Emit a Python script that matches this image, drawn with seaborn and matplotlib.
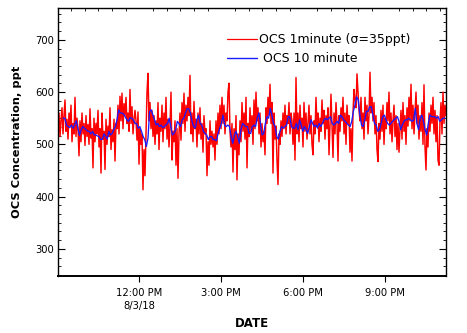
import numpy as np
import pandas as pd
import matplotlib
matplotlib.use("Agg")
import matplotlib.pyplot as plt
import matplotlib.dates as mdates
import matplotlib.ticker as mticker
import seaborn as sns
from matplotlib.lines import Line2D

# ---------------- data ----------------
red_start = "2018-08-03 09:01:30"
red_end = "2018-08-03 23:13:00"
blue_start = "2018-08-03 09:13:00"
blue_end = "2018-08-03 23:10:00"

# OCS 1 minute (ppt)
ocs_1min = [
    530, 560, 515, 545, 570, 520, 555, 585, 525, 548,
    510, 560, 535, 575, 505, 540, 520, 590, 515, 550,
    530, 478, 545, 505, 560, 520, 540, 498, 555, 515,
    538, 500, 568, 512, 530, 455, 550, 505, 540, 520,
    565, 495, 530, 445, 560, 510, 525, 452, 548, 500,
    535, 515, 570, 490, 528, 505, 548, 468, 540, 530,
    575, 520, 592, 545, 598, 530, 578, 555, 590, 540,
    560, 525, 605, 540, 572, 520, 548, 565,
    545, 508, 562, 462, 530, 500, 520, 413, 490, 440,
    520, 600, 636, 545, 580, 530, 565, 515, 555, 500,
    545, 520, 580, 490, 550, 525, 575, 505, 560, 530,
    590, 510, 548, 495, 535, 600, 470, 525, 505, 545,
    460, 530, 435, 520, 560, 508, 580, 540, 598, 525,
    575, 545, 590, 555, 632, 520, 560, 505, 582, 530,
    548, 495, 560, 520, 570, 510, 540, 485, 555, 520,
    530, 440, 505, 460, 545, 500, 525, 495,
    520, 470, 545, 500, 560, 520, 575, 530, 590, 540,
    575, 520, 560, 545, 600, 617, 525, 495, 540, 447,
    530, 490, 555, 432, 520, 480, 545, 505, 580, 525,
    560, 510, 590, 455, 540, 515, 570, 525, 555, 500,
    585, 530, 600, 545, 570, 520, 560, 495, 540, 505,
    525, 480, 570, 540, 590, 555, 615, 540, 580, 445,
    560, 510, 535, 470, 423, 520, 500, 545, 515, 560,
    530, 575, 520, 555, 540, 580, 520, 560,
    545, 500, 560, 470, 628, 520, 560, 505, 575, 530,
    550, 495, 580, 525, 560, 510, 540, 575, 520, 555,
    500, 480, 545, 520, 590, 535, 560, 505, 550, 525,
    585, 540, 565, 510, 555, 530, 570, 480, 540, 596,
    535, 475, 560, 520, 580, 540, 468, 555, 525, 570,
    545, 590, 520, 560, 500, 575, 540, 555, 485, 530,
    468, 560, 605, 585, 570, 635, 600, 565, 545, 590,
    530, 560, 510, 590, 545, 575, 520, 555,
    638, 560, 590, 545, 580, 520, 555, 490, 467, 540,
    510, 565, 525, 575, 500, 550, 530, 580, 545, 600,
    520, 560, 505, 545, 575, 515, 555, 490, 540, 485,
    530, 565, 510, 580, 525, 555, 500, 570, 535, 590,
    545, 615, 530, 575, 520, 560, 600, 540, 575, 510,
    555, 525, 580, 500, 614, 495, 451, 530, 495, 560,
    525, 575, 540, 590, 520, 565, 505, 555, 470, 460,
    545, 580, 520, 600, 540, 575, 555,
]

# OCS 10 minute (ppt)
ocs_10min = [
    550, 550, 537, 534, 532, 537, 531, 537, 545, 531,
    517, 528, 534, 531, 528, 525, 525, 520, 525, 518,
    518, 516, 515, 509, 510, 520, 515, 510, 525, 518,
    521, 528, 534, 547, 566, 560, 560, 558, 553, 547,
    544, 551, 550, 547, 540,
    540, 531, 534, 525, 515, 509, 496, 512, 563, 566,
    556, 547, 537, 540, 534, 537, 532, 534, 537, 540,
    550, 534, 518, 521, 528, 544, 540, 534, 547, 550,
    560, 568, 568, 560, 544, 534, 531, 547, 556, 540,
    537, 525, 521, 518, 509, 515, 515, 509,
    509, 507, 521, 531, 540, 556, 537, 534, 537, 534,
    515, 502, 518, 525, 515, 502, 528, 540, 537, 534,
    534, 521, 521, 534, 537, 534, 550, 560, 540, 518,
    521, 540, 553, 550, 569, 556, 540, 534, 515, 510,
    525, 534, 531, 534, 537, 553, 553, 534,
    531, 531, 540, 528, 547, 537, 525, 534, 528, 521,
    534, 547, 540, 534, 537, 531, 540, 534, 540, 547,
    550, 547, 550, 553, 540, 537, 540, 544, 540, 556,
    553, 547, 544, 540, 537, 534, 544, 563, 576, 591,
    585, 556, 537, 534, 547, 563, 563, 572,
    572, 556, 540, 537, 525, 528, 540, 553, 556, 547,
    540, 537, 540, 544, 547, 550, 553, 544, 528, 537,
    544, 547, 547, 550, 547, 544, 547, 569, 540, 528,
    550, 556, 544, 528, 518, 540, 556, 553, 553, 553,
    550, 553, 544, 547, 550, 550,
]

tick_times = ["2018-08-03 12:00", "2018-08-03 15:00", "2018-08-03 18:00", "2018-08-03 21:00"]
tick_labels = ["12:00 PM\n8/3/18", "3:00 PM", "6:00 PM", "9:00 PM"]
legend_labels = ["OCS 1minute (\u03c3=35ppt)", " OCS 10 minute"]

df_red = pd.DataFrame({
    "time": pd.date_range(red_start, red_end, periods=len(ocs_1min)),
    "ocs": ocs_1min,
})
df_blue = pd.DataFrame({
    "time": pd.date_range(blue_start, blue_end, periods=len(ocs_10min)),
    "ocs": ocs_10min,
})

# ---------------- plot ----------------
sns.set_style("ticks")
plt.rcParams["font.family"] = ["DejaVu Sans"]
plt.rcParams["text.color"] = "black"
plt.rcParams["axes.labelcolor"] = "black"
plt.rcParams["xtick.color"] = "black"
plt.rcParams["ytick.color"] = "black"

fig = plt.figure(figsize=(4.67, 3.33), dpi=100)
ax = fig.add_axes([58 / 467, 1 - 276 / 333, 388 / 467, 268 / 333])

sns.lineplot(data=df_red, x="time", y="ocs", ax=ax, color="#ff0000",
             linewidth=1.05, estimator=None, sort=False)
sns.lineplot(data=df_blue, x="time", y="ocs", ax=ax, color="#1a1aff",
             linewidth=0.95, estimator=None, sort=False)

ax.set_xlim(pd.Timestamp(red_start), pd.Timestamp(red_end))
ax.set_ylim(248, 761)

ax.yaxis.set_major_locator(mticker.FixedLocator([300, 400, 500, 600, 700]))
ax.yaxis.set_minor_locator(mticker.MultipleLocator(100 / 6))
ax.xaxis.set_major_locator(mticker.FixedLocator(mdates.date2num(pd.to_datetime(tick_times))))
ax.xaxis.set_major_formatter(mticker.FixedFormatter(tick_labels))
ax.xaxis.set_minor_locator(mdates.MinuteLocator(byminute=[0, 30]))

ax.tick_params(axis="y", which="major", direction="in", length=5, width=0.8,
               left=True, right=True, labelsize=7.2, pad=3, colors="black")
ax.tick_params(axis="y", which="minor", direction="in", length=2.5, width=0.6,
               left=True, right=True, colors="black")
ax.tick_params(axis="x", which="major", direction="out", length=4, width=0.8,
               bottom=True, top=False, labelsize=7.2, pad=5, colors="black")
ax.tick_params(axis="x", which="minor", direction="in", length=2.5, width=0.6,
               bottom=False, top=True, colors="black")
for lab in ax.get_xticklabels():
    lab.set_linespacing(1.35)

for sp in ax.spines.values():
    sp.set_visible(True)
    sp.set_color("black")
    sp.set_linewidth(1.0)
ax.spines["bottom"].set_linewidth(1.4)

ax.set_xlabel("DATE", fontsize=8.5, fontweight="bold", labelpad=4, color="black")
ax.set_ylabel("OCS Concentration, ppt", fontsize=8.2, fontweight="bold", labelpad=9, color="black")
ax.grid(False)

handles = [Line2D([], [], color="#ff0000", lw=0.9), Line2D([], [], color="#1a1aff", lw=1.0)]
leg = ax.legend(handles, legend_labels, loc="upper left", bbox_to_anchor=(0.435, 0.905),
                frameon=False, fontsize=9, handlelength=2.4, handletextpad=0.2,
                borderaxespad=0, borderpad=0, labelspacing=0.45)
for t in leg.get_texts():
    t.set_color("black")

fig.savefig("out.png", dpi=100)
